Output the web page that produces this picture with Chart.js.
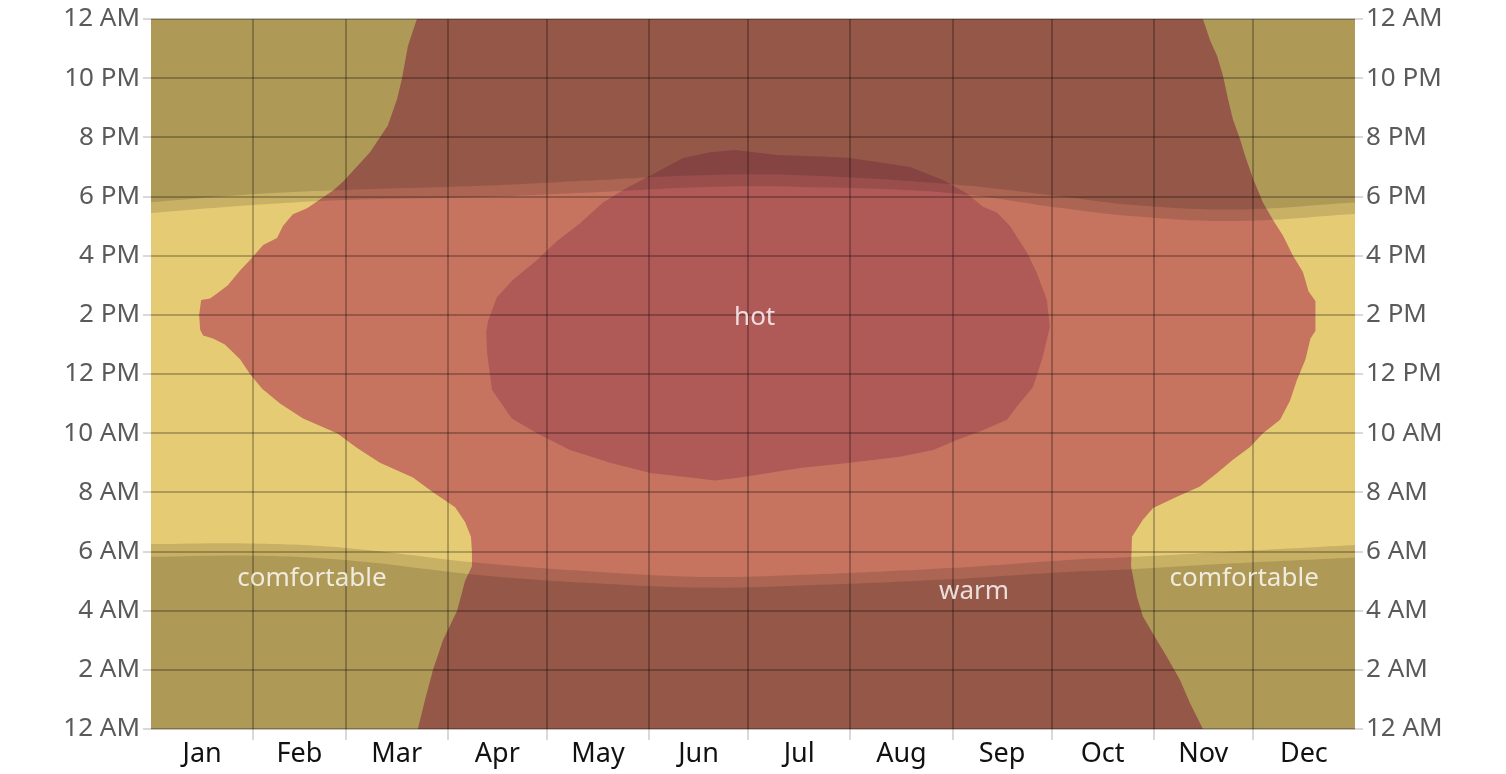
<!DOCTYPE html>
<html>
<head>
<meta charset="utf-8">
<script src="https://cdn.jsdelivr.net/npm/chart.js@4.4.1/dist/chart.umd.min.js"></script>
<style>
  html, body { margin: 0; padding: 0; background: #fff; }
</style>
</head>
<body>
<canvas id="chart" width="1506" height="774"></canvas>
<script>
const months = ['Jan', 'Feb', 'Mar', 'Apr', 'May', 'Jun', 'Jul', 'Aug', 'Sep', 'Oct', 'Nov', 'Dec'];
const monthStarts = [0, 31, 59, 90, 120, 151, 181, 212, 243, 273, 304, 334, 365];
const hourTicks = [0, 2, 4, 6, 8, 10, 12, 14, 16, 18, 20, 22, 24];
const hourLabels = ['12 AM', '2 AM', '4 AM', '6 AM', '8 AM', '10 AM', '12 PM', '2 PM', '4 PM', '6 PM', '8 PM', '10 PM', '12 AM'];

// warm band: first and last day of the year each hour is warm
const warmLeftHours = [0, 1, 2, 3, 4, 5, 5.5, 6, 6.5, 7, 7.5, 8, 8.5, 9, 9.5, 10, 10.5, 11, 11.5, 12, 12.5, 13, 13.2, 13.3, 13.5, 14, 14.5, 14.55, 14.7, 15, 15.5, 15.85, 16.36, 16.6, 17, 17.4, 17.6, 17.9, 18.2, 18.5, 19.5, 20.4, 21.3, 22, 23.1, 24];
const warmLeftDays = [80.9, 83.1, 85.5, 88.5, 92.8, 95.2, 97.3, 97.3, 97.0, 95.2, 92.2, 85.5, 79.4, 69.4, 62.5, 56.4, 46.1, 39.1, 33.7, 30.0, 27.0, 22.4, 18.8, 15.8, 14.9, 14.6, 15.2, 17.9, 19.7, 23.3, 27.0, 30.0, 34.0, 38.2, 40.0, 43.0, 47.3, 51.2, 55.2, 58.2, 66.4, 71.8, 74.6, 76.1, 77.9, 80.6];
const warmRightHours = [0, 0.87, 1.65, 2.43, 3.1, 3.8, 4.47, 5.5, 6.5, 7.07, 7.47, 7.85, 8.2, 8.65, 9.1, 9.53, 10, 10.45, 11.1, 11.8, 12.5, 13.2, 13.45, 14.47, 14.8, 15.45, 16, 16.67, 17.2, 17.8, 18.6, 19.37, 19.95, 20.6, 21.3, 22.07, 22.75, 23.3, 24];
const warmRightDays = [318.9, 315.0, 312.0, 308.0, 304.4, 300.7, 298.9, 297.1, 297.4, 300.7, 303.8, 311.0, 318.0, 323.2, 328.0, 333.2, 337.1, 342.3, 345.3, 347.4, 350.0, 351.5, 353.0, 353.0, 350.9, 349.2, 346.2, 343.2, 340.2, 337.1, 334.1, 331.7, 330.1, 328.0, 326.5, 325.0, 323.2, 321.0, 318.9];

// hot band
const hotLeftHours = [8.4, 8.5, 8.65, 9.0, 9.43, 10, 10.5, 11.46, 12.7, 13.4, 13.8, 14.6, 15.18, 15.85, 16.5, 17.1, 17.8, 18.3, 18.83, 19.3, 19.5, 19.57];
const hotLeftDays = [171.0, 163.4, 151.3, 139.2, 127.0, 117.0, 109.4, 103.4, 101.9, 101.6, 102.2, 104.9, 109.7, 117.0, 123.1, 130.1, 137.0, 144.3, 153.4, 161.3, 169.5, 177.0];
const hotRightHours = [8.4, 8.5, 8.82, 9.0, 9.2, 9.43, 9.77, 10.1, 10.45, 10.9, 11.56, 12.6, 13.6, 14.5, 15.4, 16.1, 17.0, 17.45, 17.65, 18.1, 18.56, 19.0, 19.17, 19.3, 19.34, 19.4, 19.57];
const hotRightDays = [171.0, 178.6, 196.8, 211.9, 227.1, 237.1, 244.3, 252.2, 259.5, 262.5, 267.4, 270.4, 272.5, 271.6, 268.6, 265.6, 260.4, 256.5, 252.2, 247.4, 240.1, 230.1, 220.1, 211.9, 204.9, 189.8, 177.0];

// daylight and twilight (hours)
const sunDays = [0, 31, 59, 100, 136, 169, 197, 242, 276, 297, 328, 365];
const sunrise = [6.25, 6.27, 6.12, 5.61, 5.31, 5.14, 5.21, 5.44, 5.70, 5.81, 6.0, 6.22];
const dawn = [5.82, 5.86, 5.71, 5.2, 4.92, 4.78, 4.85, 5.06, 5.3, 5.4, 5.6, 5.8];
const sunset = [17.44, 17.71, 17.88, 17.98, 18.15, 18.32, 18.32, 18.12, 17.61, 17.34, 17.17, 17.41];
const dusk = [17.81, 18.08, 18.22, 18.36, 18.56, 18.73, 18.72, 18.42, 18.0, 17.72, 17.56, 17.8];

const regionLabels = ['hot', 'warm', 'comfortable', 'comfortable'];
const labelDays = [183, 249.5, 48.8, 331.4];
const labelHours = [13.9, 4.64, 5.07, 5.07];

const FONT = '"Noto Sans", "Open Sans", sans-serif';
const nightShade = 'rgba(0, 0, 0, 0.13)';

function outline(leftDays, leftHours, rightDays, rightHours) {
    const pts = leftDays.map((d, i) => ({ x: d, y: leftHours[i] }));
    for (let i = rightDays.length - 1; i >= 0; i--) {
        pts.push({ x: rightDays[i], y: rightHours[i] });
    }
    return pts;
}

function curve(values) {
    return sunDays.map((d, i) => ({ x: d, y: values[i] }));
}

const monthMids = months.map((m, i) => (monthStarts[i] + monthStarts[i + 1]) / 2);

// text labels inside the chart
const regionLabelPlugin = {
    id: 'regionLabels',
    afterDraw(chart) {
        const { ctx, scales } = chart;
        ctx.save();
        ctx.font = '26px ' + FONT;
        ctx.fillStyle = 'rgba(255, 255, 255, 0.8)';
        ctx.textAlign = 'center';
        ctx.textBaseline = 'middle';
        regionLabels.forEach((text, i) => {
            ctx.fillText(text, scales.x.getPixelForValue(labelDays[i]), scales.y.getPixelForValue(labelHours[i]));
        });
        ctx.restore();
    }
};

const gridColor = 'rgba(0, 0, 0, 0.25)';
const tickColor = 'rgba(0, 0, 0, 0.15)';

new Chart(document.getElementById('chart'), {
    type: 'line',
    data: {
        datasets: [
            { label: 'dusk', data: curve(dusk), fill: 'end', backgroundColor: nightShade, tension: 0.4, order: 1 },
            { label: 'sunset', data: curve(sunset), fill: 'end', backgroundColor: nightShade, tension: 0.4, order: 2 },
            { label: 'dawn', data: curve(dawn), fill: 'start', backgroundColor: nightShade, tension: 0.4, order: 3 },
            { label: 'sunrise', data: curve(sunrise), fill: 'start', backgroundColor: nightShade, tension: 0.4, order: 4 },
            { label: 'hot', data: outline(hotLeftDays, hotLeftHours, hotRightDays, hotRightHours), fill: 'shape', backgroundColor: '#b05a58', order: 5 },
            { label: 'warm', data: outline(warmLeftDays, warmLeftHours, warmRightDays, warmRightHours), fill: 'shape', backgroundColor: '#c6745f', order: 6 },
            { label: 'comfortable', data: [{ x: 0, y: 24 }, { x: 365, y: 24 }], fill: 'start', backgroundColor: '#e6cb75', order: 7 }
        ]
    },
    options: {
        responsive: false,
        animation: false,
        layout: { padding: { top: 19, left: 0, right: 0, bottom: 0 } },
        elements: {
            point: { radius: 0, hoverRadius: 0 },
            line: { borderWidth: 0 }
        },
        plugins: {
            legend: { display: false },
            tooltip: { enabled: false }
        },
        scales: {
            x: {
                type: 'linear', min: 0, max: 365, position: 'bottom', weight: 0,
                afterBuildTicks: axis => { axis.ticks = monthStarts.slice(1, -1).map(v => ({ value: v })); },
                ticks: { display: false },
                grid: { z: 1, color: gridColor, tickColor: tickColor, tickLength: 11, lineWidth: 2 },
                border: { display: false },
                afterFit: axis => { axis.height = 11; }
            },
            months: {
                type: 'linear', min: 0, max: 365, position: 'bottom', weight: 1,
                afterBuildTicks: axis => { axis.ticks = monthMids.map(v => ({ value: v })); },
                ticks: {
                    callback: (v, i) => months[i],
                    autoSkip: false, maxRotation: 0, padding: -10,
                    color: '#111', font: { family: FONT, size: 27 }
                },
                grid: { display: false },
                border: { display: false },
                afterFit: axis => { axis.height = 34; }
            },
            y: {
                type: 'linear', min: 0, max: 24, position: 'left',
                afterBuildTicks: axis => { axis.ticks = hourTicks.map(v => ({ value: v })); },
                ticks: {
                    callback: (v, i) => hourLabels[i],
                    padding: 3, color: '#5a5a5a', font: { family: FONT, size: 26 }
                },
                grid: { z: 1, color: gridColor, tickColor: tickColor, tickLength: 8, lineWidth: 2 },
                border: { display: false },
                afterFit: axis => { axis.width = 151; }
            },
            y2: {
                type: 'linear', min: 0, max: 24, position: 'right',
                afterBuildTicks: axis => { axis.ticks = hourTicks.map(v => ({ value: v })); },
                ticks: {
                    callback: (v, i) => hourLabels[i],
                    padding: 3, color: '#5a5a5a', font: { family: FONT, size: 26 }
                },
                grid: { drawOnChartArea: false, tickColor: tickColor, tickLength: 8, lineWidth: 2 },
                border: { display: false },
                afterFit: axis => { axis.width = 151; }
            }
        }
    },
    plugins: [regionLabelPlugin]
});
</script>
</body>
</html>
